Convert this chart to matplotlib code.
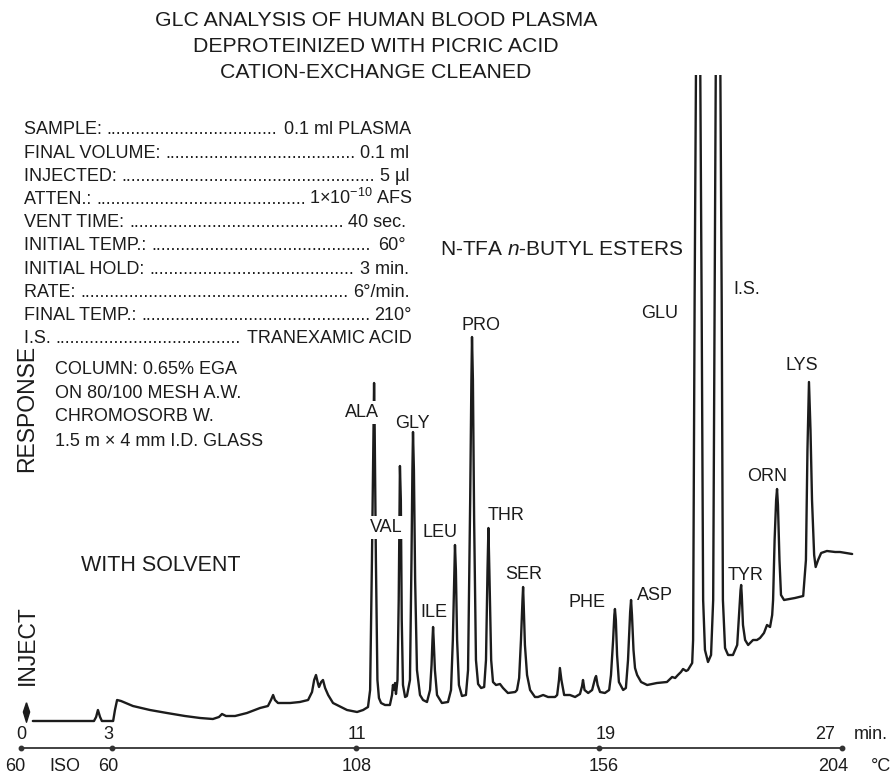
import matplotlib
matplotlib.use("Agg")
import matplotlib.pyplot as plt
import numpy as np

W, H, DPI = 892, 775, 100

plt.rcParams['font.family'] = ['Liberation Sans', 'DejaVu Sans']
plt.rcParams['mathtext.fontset'] = 'custom'
plt.rcParams['mathtext.rm'] = 'Liberation Sans'
plt.rcParams['mathtext.it'] = 'Liberation Sans:italic'
plt.rcParams['mathtext.bf'] = 'Liberation Sans:bold'

# ---------------- chromatogram trace (time in min, detector response) ----------------
early_t = [0.39, 2.40, 2.47, 2.53, 2.60, 2.66, 3.03, 3.09, 3.16, 3.29, 3.68, 4.24, 4.80,
           5.39, 5.89, 6.31, 6.51, 6.61, 6.74, 7.04, 7.43, 7.86, 8.12, 8.22, 8.29, 8.35,
           8.45, 8.85, 9.17, 9.44, 9.57, 9.64, 9.70, 9.77, 9.80, 9.87, 9.93, 10.00, 10.10,
           10.26, 10.72, 11.05, 11.25, 11.41]
early_r = [1, 1, 5, 12, 5, 1, 1, 12, 22, 21, 16, 12, 9,
           6, 4, 3, 5, 8, 6, 6, 9, 14, 16, 22, 27, 22,
           19, 19, 20, 22, 30, 42, 47, 38, 35, 40, 42, 34, 27,
           19, 12, 10, 12, 15]

ala_t = [11.48, 11.54, 11.59, 11.61, 11.63, 11.67, 11.72, 11.77, 11.84, 11.97, 12.13,
         12.20, 12.23, 12.27, 12.30, 12.33]
ala_r = [32, 162, 292, 339, 292, 162, 42, 24, 19, 17, 17, 27, 37, 32, 39, 28]

val_t = [12.38, 12.42, 12.45, 12.46, 12.49, 12.52, 12.56, 12.63]
val_r = [42, 122, 222, 256, 222, 102, 37, 25]

gly_t = [12.69, 12.79, 12.84, 12.87, 12.89, 12.92, 12.96, 13.02, 13.12, 13.22]
gly_r = [26, 42, 162, 252, 290, 252, 142, 52, 27, 22]

ile_t = [13.35, 13.45, 13.50, 13.53, 13.55, 13.57, 13.61, 13.68, 13.84]
ile_r = [20, 32, 57, 82, 95, 82, 52, 27, 19]

leu_t = [14.04, 14.14, 14.20, 14.25, 14.27, 14.30, 14.34, 14.40, 14.50]
leu_r = [20, 32, 82, 152, 177, 152, 82, 37, 26]

pro_t = [14.63, 14.70, 14.77, 14.81, 14.83, 14.86, 14.90, 14.96, 15.03, 15.13]
pro_r = [27, 52, 222, 342, 385, 342, 202, 62, 38, 34]

thr_t = [15.23, 15.29, 15.34, 15.37, 15.40, 15.46, 15.52, 15.62, 15.75, 15.85, 16.01, 16.25]
thr_r = [35, 62, 152, 194, 152, 62, 40, 37, 38, 34, 29, 30]

ser_t = [16.31, 16.38, 16.44, 16.49, 16.51, 16.53, 16.57, 16.64, 16.74, 16.90, 17.00,
         17.17, 17.33, 17.56]
ser_r = [32, 44, 82, 122, 135, 117, 77, 47, 32, 25, 25, 27, 25, 25]

minor_t = [17.63, 17.69, 17.72, 17.77, 17.86, 18.05, 18.22, 18.38, 18.45, 18.48, 18.53,
           18.65, 18.78, 18.88, 18.91, 18.96, 19.04, 19.20]
minor_r = [27, 42, 54, 42, 27, 27, 25, 28, 36, 42, 32, 29, 32, 44, 46, 37, 30, 29]

phe_t = [19.34, 19.40, 19.47, 19.51, 19.53, 19.56, 19.60, 19.66, 19.80]
phe_r = [32, 47, 82, 107, 113, 102, 67, 40, 32]

asp_t = [19.89, 19.96, 20.03, 20.06, 20.09, 20.14, 20.19, 20.26, 20.39, 20.59, 20.91,
         21.24, 21.34, 21.41, 21.51, 21.60, 21.70, 21.77, 21.87, 21.93, 22.03]
asp_r = [34, 62, 110, 122, 107, 72, 54, 47, 40, 37, 39, 40, 43, 45, 44, 47, 50, 53, 51, 52, 57]

glu_t = [22.07, 22.10, 22.15, 22.20, 22.26, 22.33, 22.38, 22.43, 22.49, 22.59]
glu_r = [59, 82, 422, 682, 702, 682, 422, 122, 72, 60]

is_t = [22.69, 22.76, 22.81, 22.85, 22.92, 22.99, 23.04, 23.08, 23.15, 23.25]
is_r = [67, 122, 422, 682, 702, 682, 422, 122, 74, 67]

tyr_t = [23.41, 23.55, 23.61, 23.66, 23.68, 23.70, 23.74, 23.81, 23.91, 24.07, 24.20,
         24.30, 24.43, 24.53, 24.63, 24.70]
tyr_r = [67, 77, 107, 132, 137, 127, 97, 82, 77, 82, 82, 84, 89, 97, 95, 107]

orn_t = [24.73, 24.78, 24.83, 24.86, 24.89, 24.94, 24.99, 25.09, 25.45, 25.72]
orn_r = [122, 182, 222, 233, 217, 162, 127, 122, 124, 126]

lys_t = [25.81, 25.86, 25.91, 25.96, 26.01, 26.08, 26.13, 26.21, 26.31, 26.41, 26.50,
         26.77, 26.93, 27.13, 27.33]
lys_r = [162, 272, 340, 292, 222, 167, 155, 162, 169, 170, 171, 170, 170, 169, 168]

# ---------------- peak labels ----------------
peak_names = ['ALA', 'VAL', 'GLY', 'LEU', 'ILE', 'PRO', 'THR', 'SER',
              'PHE', 'ASP', 'GLU', 'I.S.', 'TYR', 'ORN', 'LYS']
label_t = [11.21, 12.00, 12.86, 13.78, 13.58, 15.13, 15.95, 16.54,
           18.61, 20.85, 21.01, 23.87, 23.81, 24.53, 25.68]
label_r = [305, 190, 294, 185, 105, 392, 202, 143,
           115, 122, 404, 428, 142, 241, 352]
knockout = ['ALA', 'VAL']

# ---------------- axis scales ----------------
time_ticks = [0, 3, 11, 19, 27]
time_tick_labels = ['0', '3', '11', '19', '27']
temp_tick_labels = ['60', '60', '108', '156', '204']
inject_mark = (0.16, 10)

# ---------------- text blocks ----------------
title_lines = ['GLC ANALYSIS OF HUMAN BLOOD PLASMA',
               'DEPROTEINIZED WITH PICRIC ACID',
               'CATION-EXCHANGE CLEANED']
cond_names = ['SAMPLE:', 'FINAL VOLUME:', 'INJECTED:', 'ATTEN.:', 'VENT TIME:',
              'INITIAL TEMP.:', 'INITIAL HOLD:', 'RATE:', 'FINAL TEMP.:', 'I.S.']
cond_values = ['0.1 ml PLASMA', '0.1 ml', '5 µl', r'1$\times$10$^{\mathregular{-10}}$ AFS',
               '40 sec.', '60°', '3 min.', '6°/min.', '210°', 'TRANEXAMIC ACID']
cond_right = [411, 409, 410, 413, 406, 406, 409, 410, 412, 412]
column_lines = ['COLUMN: 0.65% EGA', 'ON 80/100 MESH A.W.', 'CHROMOSORB W.',
                '1.5 m × 4 mm I.D. GLASS']

INK = '#1c1c1c'
FS = 13

fig = plt.figure(figsize=(W / DPI, H / DPI), dpi=DPI)
fig.patch.set_facecolor('white')


def fx(x):
    return x / W


def fy(y):
    return 1 - y / H


# trace axes: top edge clips the two large peaks
ax = fig.add_axes([0, 0, 1, 700 / H])
ax.set_xlim(-0.69, 28.64)
ax.set_ylim(-53, 647)
ax.axis('off')

t_all = np.concatenate([early_t, ala_t, val_t, gly_t, ile_t, leu_t, pro_t, thr_t, ser_t,
                        minor_t, phe_t, asp_t, glu_t, is_t, tyr_t, orn_t, lys_t])
r_all = np.concatenate([early_r, ala_r, val_r, gly_r, ile_r, leu_r, pro_r, thr_r, ser_r,
                        minor_r, phe_r, asp_r, glu_r, is_r, tyr_r, orn_r, lys_r])
ax.plot(t_all, r_all, color=INK, lw=1.7, solid_joinstyle='round',
        solid_capstyle='round', zorder=2)

# injection marker
diamond = [(0, 1), (0.32, 0.05), (0, -1), (-0.32, 0.05), (0, 1)]
ax.plot([inject_mark[0]], [inject_mark[1]], marker=diamond, ms=14, color=INK,
        mec=INK, zorder=3)

# time / temperature scale
axis_r = -26
ax.plot([time_ticks[0], time_ticks[-1]], [axis_r, axis_r], color='#333333', lw=1.3,
        clip_on=False, zorder=2)
ax.plot(time_ticks, [axis_r] * len(time_ticks), 'o', ms=3.2, color='#333333',
        clip_on=False, zorder=3)
time_off = [0, -4, 1, 7, -17]      # label nudges in pixels
temp_off = [-6, -4, 1, 5, -9]
for tk, lab, dx in zip(time_ticks, time_tick_labels, time_off):
    ax.annotate(lab, (tk, -17), xytext=(dx * 0.72, 0), textcoords='offset points',
                ha='center', va='baseline', fontsize=FS, color=INK)
for tk, lab, dx in zip(time_ticks, temp_tick_labels, temp_off):
    ax.annotate(lab, (tk, -49), xytext=(dx * 0.72, 0), textcoords='offset points',
                ha='center', va='baseline', fontsize=FS, color=INK)
ax.text(27.95, -17, 'min.', ha='center', va='baseline', fontsize=FS, color=INK)
ax.text(28.28, -49, '°C', ha='center', va='baseline', fontsize=FS, color=INK)
ax.text(1.45, -49, 'ISO', ha='center', va='baseline', fontsize=FS, color=INK)

# peak labels
for name, lt, lr in zip(peak_names, label_t, label_r):
    kw = {}
    if name in knockout:
        kw['bbox'] = dict(boxstyle='square,pad=0.15', fc='white', ec='none')
    ax.text(lt, lr, name, ha='center', va='baseline', fontsize=FS, color=INK,
            zorder=4, **kw)

ax.text(21.80, 467, r'N-TFA $\mathit{n}$-BUTYL ESTERS', ha='right', va='baseline',
        fontsize=15, color=INK)
ax.text(4.60, 151, 'WITH SOLVENT', ha='center', va='baseline', fontsize=15.5, color=INK)

# vertical annotations on the left
fig.text(fx(27), fy(408), 'RESPONSE', rotation=90, ha='center', va='center',
         fontsize=16.5, color=INK)
fig.text(fx(27), fy(645), 'INJECT', rotation=90, ha='center', va='center',
         fontsize=16.5, color=INK)

# title
for i, line in enumerate(title_lines):
    fig.text(fx(376), fy(25.5 + 26 * i), line, ha='center', va='baseline',
             fontsize=15.3, color=INK)

# run conditions with dotted leaders
renderer = fig.canvas.get_renderer()
probe = fig.text(0, 0, '.' * 40, fontsize=FS)
dot_w = probe.get_window_extent(renderer).width / 40
probe.remove()
for i, (name, val, xr) in enumerate(zip(cond_names, cond_values, cond_right)):
    yb = fy(128 + 23.2 * i + 6.5)
    t1 = fig.text(fx(24), yb, name + ' ', va='baseline', fontsize=FS, color=INK)
    t2 = fig.text(fx(xr), yb, val, ha='right', va='baseline', fontsize=FS, color=INK)
    x1 = t1.get_window_extent(renderer).x1
    x2 = t2.get_window_extent(renderer).x0
    n = int((x2 - x1 - 0.6 * dot_w) / dot_w)
    if n > 0:
        fig.text(x1 / W, yb, '.' * n, va='baseline', fontsize=FS, color=INK)

for i, line in enumerate(column_lines):
    fig.text(fx(55), fy(367 + 24 * i + 6.5), line, va='baseline', fontsize=FS, color=INK)

fig.savefig('out.png', dpi=DPI, facecolor='white')
